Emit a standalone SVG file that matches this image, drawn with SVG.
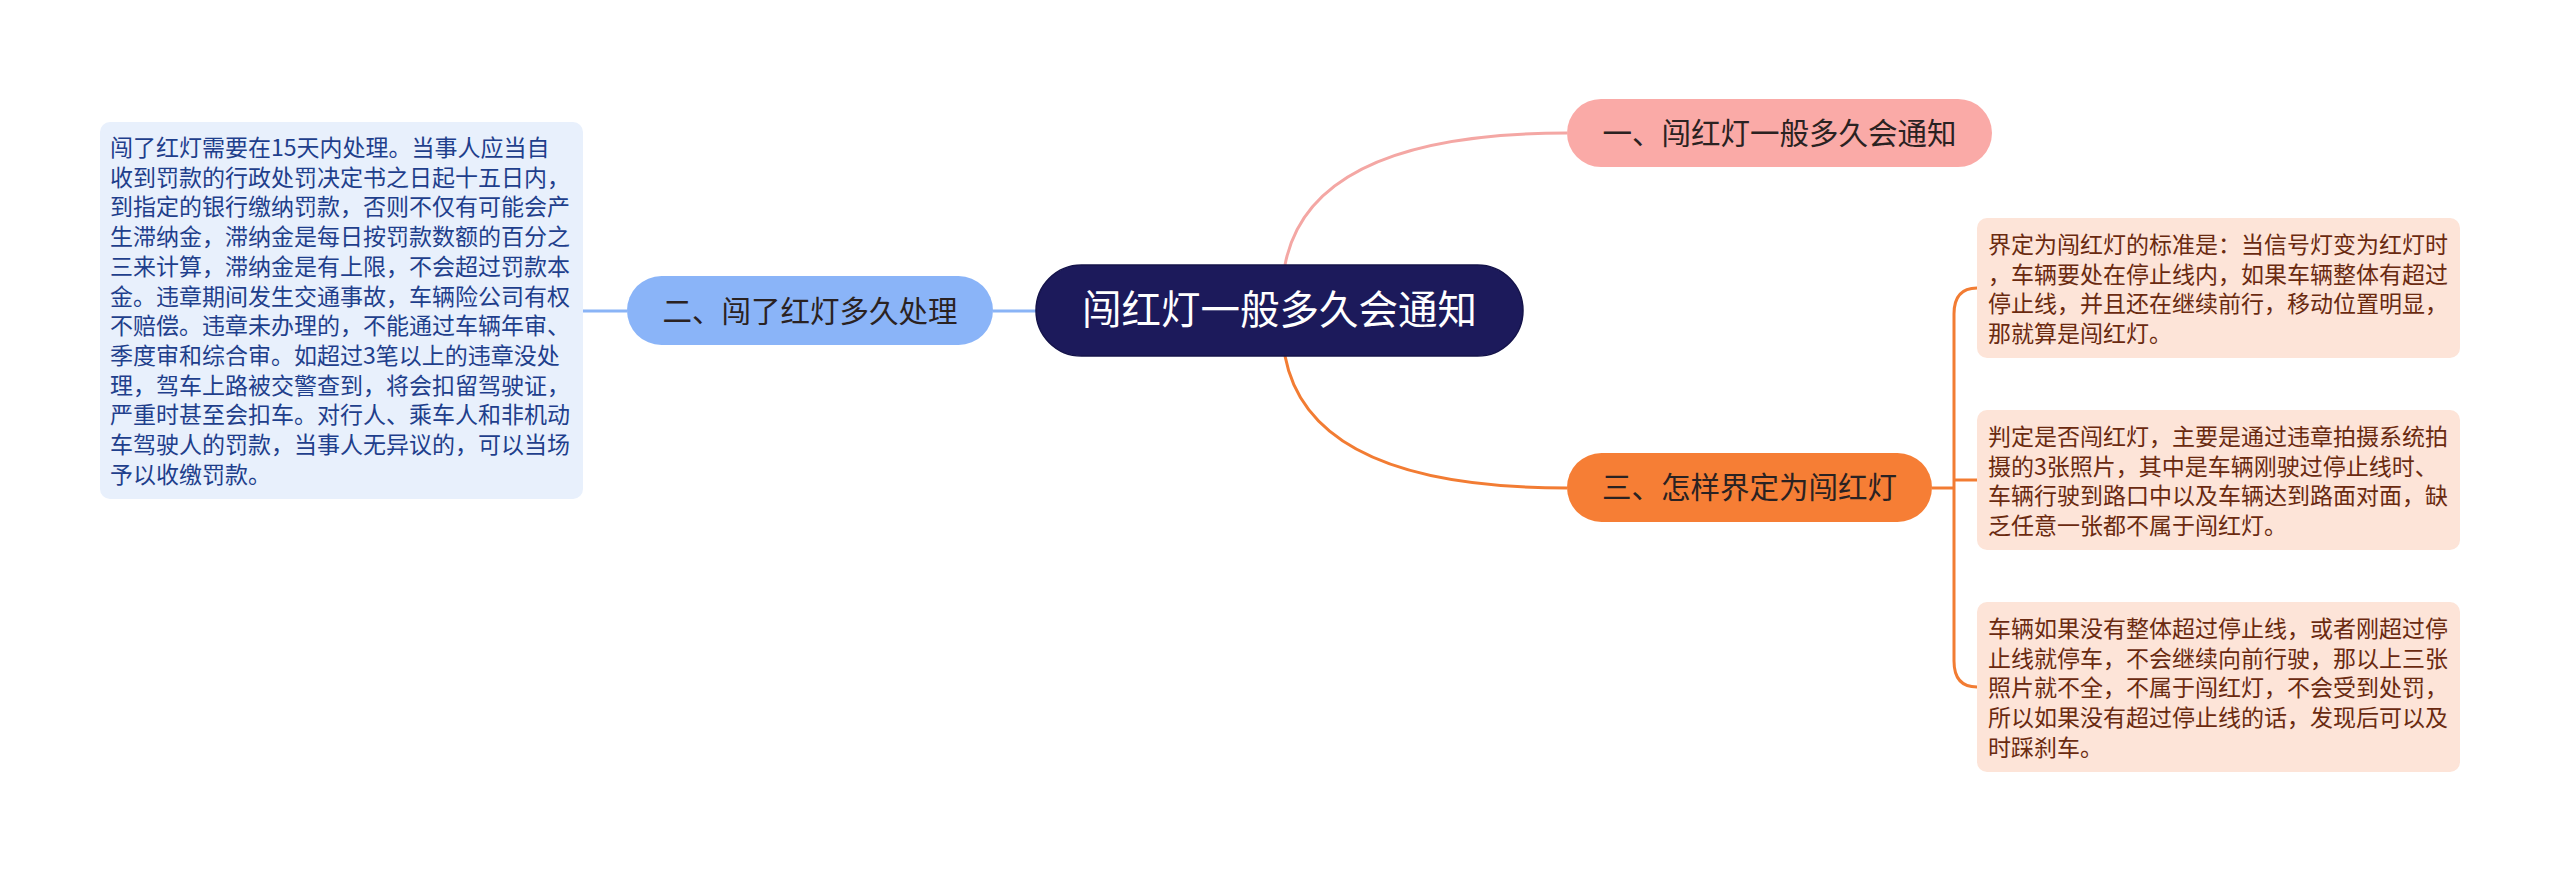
<svg xmlns="http://www.w3.org/2000/svg" width="2560" height="871" viewBox="0 0 2560 871">
<style>
text{font-family:"Noto Sans CJK SC","Noto Sans",sans-serif;}
.lt{font-size:23px;fill:#1f3f8c;}
.rt{font-size:23px;fill:#6a2a10;}
.nt{font-size:29.5px;fill:#2a2222;text-anchor:middle;}
.ct{font-size:39.5px;fill:#ffffff;text-anchor:middle;}
.lbox{fill:#e8f0fc;}
.rbox{fill:#fde4d8;}
</style>
<rect width="2560" height="871" fill="#ffffff"/>
<g id="connectors" fill="none" stroke-width="3">
<path d="M1285,265 Q1310,133 1567,133" stroke="#f4a7a4"/>
<path d="M1285,356 Q1310,488 1567,488" stroke="#f27c33"/>
<path d="M1037,311 H993" stroke="#8ab4f6"/>
<path d="M627,311 H583" stroke="#8ab4f6"/>
<path d="M1932,488 H1954" stroke="#f27c33"/>
<path d="M1977,288 Q1954,288 1954,314 V661 Q1954,687 1977,687" stroke="#f27c33"/>
<path d="M1954,480 H1977" stroke="#f27c33"/>
</g>
<g id="center">
<rect x="1036" y="265" width="487" height="91" rx="45.5" fill="#1c1a5b" stroke="#14134a" stroke-width="1.5"/>
<text class="ct" x="1279.5" y="324">闯红灯一般多久会通知</text>
</g>
<g id="n1">
<rect x="1567" y="99" width="425" height="68" rx="34" fill="#faaaa7"/>
<text class="nt" x="1779.5" y="143.5">一、闯红灯一般多久会通知</text>
</g>
<g id="n2">
<rect x="627" y="276" width="366" height="69" rx="34.5" fill="#8ab4f8"/>
<text class="nt" x="810" y="321.5">二、闯了红灯多久处理</text>
</g>
<g id="n3">
<rect x="1567" y="453" width="365" height="69" rx="34.5" fill="#f67e35"/>
<text class="nt" x="1749.5" y="498">三、怎样界定为闯红灯</text>
</g>
<g id="n2a">
<rect class="lbox" x="100" y="122" width="483" height="377" rx="10"/>
<text class="lt">
<tspan x="110" y="156">闯了红灯需要在15天内处理。当事人应当自</tspan>
<tspan x="110" y="185.7">收到罚款的行政处罚决定书之日起十五日内，</tspan>
<tspan x="110" y="215.4">到指定的银行缴纳罚款，否则不仅有可能会产</tspan>
<tspan x="110" y="245.1">生滞纳金，滞纳金是每日按罚款数额的百分之</tspan>
<tspan x="110" y="274.8">三来计算，滞纳金是有上限，不会超过罚款本</tspan>
<tspan x="110" y="304.5">金。违章期间发生交通事故，车辆险公司有权</tspan>
<tspan x="110" y="334.2">不赔偿。违章未办理的，不能通过车辆年审、</tspan>
<tspan x="110" y="363.9">季度审和综合审。如超过3笔以上的违章没处</tspan>
<tspan x="110" y="393.6">理，驾车上路被交警查到，将会扣留驾驶证，</tspan>
<tspan x="110" y="423.3">严重时甚至会扣车。对行人、乘车人和非机动</tspan>
<tspan x="110" y="453">车驾驶人的罚款，当事人无异议的，可以当场</tspan>
<tspan x="110" y="482.7">予以收缴罚款。</tspan>
</text>
</g>
<g id="n3a">
<rect class="rbox" x="1977" y="218" width="483" height="140" rx="10"/>
<text class="rt">
<tspan x="1988" y="253">界定为闯红灯的标准是：当信号灯变为红灯时</tspan>
<tspan x="1988" y="282.7">，车辆要处在停止线内，如果车辆整体有超过</tspan>
<tspan x="1988" y="312.4">停止线，并且还在继续前行，移动位置明显，</tspan>
<tspan x="1988" y="342.1">那就算是闯红灯。</tspan>
</text>
</g>
<g id="n3b">
<rect class="rbox" x="1977" y="410" width="483" height="140" rx="10"/>
<text class="rt">
<tspan x="1988" y="445">判定是否闯红灯，主要是通过违章拍摄系统拍</tspan>
<tspan x="1988" y="474.7">摄的3张照片，其中是车辆刚驶过停止线时、</tspan>
<tspan x="1988" y="504.4">车辆行驶到路口中以及车辆达到路面对面，缺</tspan>
<tspan x="1988" y="534.1">乏任意一张都不属于闯红灯。</tspan>
</text>
</g>
<g id="n3c">
<rect class="rbox" x="1977" y="602" width="483" height="170" rx="10"/>
<text class="rt">
<tspan x="1988" y="637">车辆如果没有整体超过停止线，或者刚超过停</tspan>
<tspan x="1988" y="666.7">止线就停车，不会继续向前行驶，那以上三张</tspan>
<tspan x="1988" y="696.4">照片就不全，不属于闯红灯，不会受到处罚，</tspan>
<tspan x="1988" y="726.1">所以如果没有超过停止线的话，发现后可以及</tspan>
<tspan x="1988" y="755.8">时踩刹车。</tspan>
</text>
</g>
</svg>
